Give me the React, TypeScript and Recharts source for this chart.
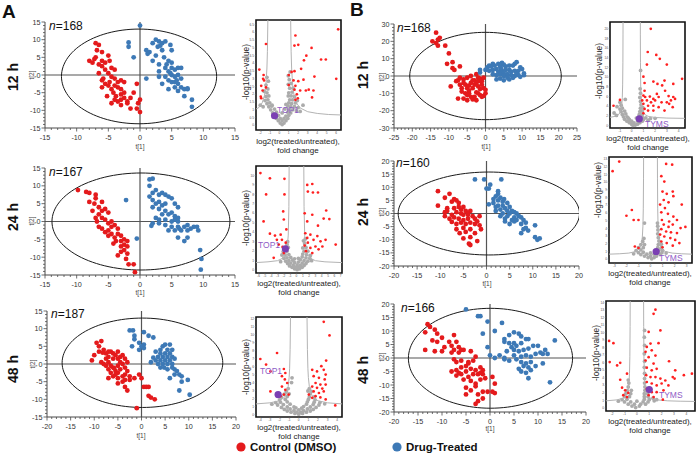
import React from 'react';
import { ScatterChart, Scatter, XAxis, YAxis, ReferenceLine, ReferenceArea } from 'recharts';

const FONT = '"Liberation Sans", Arial, Helvetica, sans-serif';
const RED = '#e41a1c';
const BLUE = '#3d79b6';
const VRED = '#ff1f1f';
const GRAY = '#ababab';
const CURVE = '#b3b3b3';
const PURPLE = '#7b3fb3';
const PURPLE_TXT = '#8f5cc6';
const AXIS = '#4a4a4a';

type Pt = [number, number];

// ---------- Score plots (t[1] vs t[2]) ----------
const a12Red: Pt[] = [[-7,9],[-6.5,8.5],[-6.8,7],[-6,6.5],[-7,5],[-8,4],[-7.5,3.5],[-6.5,3],[-5.5,3.5],[-5,5.5],[-4.8,4],[-6,2.5],[-5.5,1.5],[-4.5,2],[-4,1.5],[-5,0.5],[-4.5,-0.5],[-6,-1.5],[-5.5,-2.5],[-4,-1],[-3.5,-2],[-3,-1.5],[-2.5,-2],[-5,-3],[-4.5,-4],[-4,-3],[-3.5,-3.5],[-3,-4],[-4.2,-5],[-3.8,-6],[-3,-5.5],[-2.5,-5],[-4,-7],[-3.5,-7.5],[-3,-7],[-2.5,-6.5],[-2,-7.5],[-1.5,-6.5],[-4.5,-8],[-3,-8.5],[-2,-8],[-1.5,-9.5],[-0.5,-9.5],[-0.3,-8],[0,-7],[-1,-5],[-0.5,-2.5],[0,-10.5],[-5.8,-1],[-6.5,0.5],[-6,4],[-7.2,4.5],[-4.8,-2],[-5.2,-6],[-6,-3.5]];
const a12Blue: Pt[] = [[0,14],[-1.8,9.2],[-1.8,8],[-1,5],[1,7],[1.5,6.5],[2,9],[2.5,10],[3,9.5],[2.8,8],[3.5,9],[4,9.5],[3.5,7],[5,7],[4.8,8.5],[2,4],[3,3],[2.5,5.5],[3.8,5],[4.5,4],[5,3.5],[4,2],[3,1],[4.5,1],[5,2],[5.5,1.5],[6,2],[6.5,2],[5,0],[5.5,-0.5],[6,0],[6.5,-1],[4.5,-1.5],[4,-0.5],[3,-0.5],[5,-2],[6,-2.5],[6.5,-3.5],[7,-4],[5.5,-3.5],[6,-4.5],[4.5,-4],[7.5,-4],[7,-6],[8.2,-7],[8.2,-9],[1,-1],[3.5,-2.5],[5.5,-2],[4.2,3],[1.2,6],[7.5,-3.8],[3.2,8.3],[5.8,-1.5],[4.8,0.5]];

const a24Red: Pt[] = [[-9.8,8.8],[-8.5,8.3],[-8,8],[-8,5.5],[-7,7.5],[-7,6.5],[-7.2,5],[-6.5,4],[-6,5.5],[-6,3],[-5.5,3.5],[-5,2.5],[-6.5,2],[-7,1],[-6,1],[-5.5,0.5],[-5,-0.5],[-4.5,0],[-6.5,-1.5],[-6,-2],[-5,-2.5],[-4.5,-1.5],[-4,-1],[-3.5,-2],[-5,-4],[-4.5,-3.5],[-4,-4.5],[-3.5,-3.5],[-3,-4],[-3.8,-5.5],[-3,-5.5],[-2.5,-5],[-2,-5.5],[-3,-7],[-2.5,-6.5],[-2,-7],[-3,-8.5],[-2.5,-8],[-2,-9],[-3.5,-9.5],[-2.2,-10.5],[-1.8,-12],[-1,-12],[-0.8,-14.2],[-5.5,-3],[-4.2,-6.2],[-6.8,0],[-7.5,3]];
const a24Blue: Pt[] = [[-2.2,6],[-0.5,-4.8],[1.5,11.8],[2,12],[1.5,10],[1.5,7],[2,8],[2.5,8.8],[3,7.5],[3.5,8],[4,7.5],[4.5,7],[5,6.5],[2,6],[2.5,5],[3,5.5],[3.5,4.5],[4,5],[5.5,5],[6,4],[2,4],[3,3.5],[4,3],[4.5,2],[5,2.5],[5.5,1.5],[6,1],[3.5,2],[2.5,1],[3,0.5],[4,0.5],[5,0],[5.5,0.5],[6,0],[2,-0.5],[3,-0.5],[4,-1],[5,-1.5],[6,-1.5],[7,-1.5],[7.5,-1],[8.5,-1.5],[9,-1.5],[4.5,-2.5],[5.5,-2.5],[6.5,-2.5],[7.5,-2.5],[8,-2],[9.2,-2.5],[6,-4.5],[7,-5.5],[7.5,-4.5],[9.5,-8],[9.7,-10.5],[9.6,-13.5],[6.2,-2],[1.8,-1.2]];

const a48Red: Pt[] = [[-10.5,1],[-10,2.5],[-9.5,6],[-9,5],[-8.5,6.5],[-9,3.5],[-8,4],[-7.5,3],[-7,3.5],[-6.5,3.5],[-6,3],[-5,3.5],[-5.5,2.5],[-7.5,1.5],[-7,2],[-6,1.5],[-5,1.5],[-4.5,2],[-4,2.5],[-3.5,1.5],[-8.5,0.5],[-8,0],[-7.5,-0.5],[-7,0.5],[-6.5,-0.5],[-6,-1],[-5,-0.5],[-4.5,0.5],[-4,0],[-3,0.5],[-7,-1.5],[-6.5,-2.5],[-5.5,-2],[-5,-2.5],[-4.5,-1.5],[-3.5,-1],[-3,-2],[-7,-4],[-6,-3.5],[-5.5,-3],[-5,-4],[-4,-3.5],[-3.5,-3],[-2.5,-3.5],[-5,-5.5],[-4,-5],[-3.5,-4.5],[-2.5,-4.5],[-1.5,-4],[-3.5,-6.5],[-3,-7.5],[-0.5,-3],[0,-4],[0.5,-6.5],[1,-6.5],[1.5,-6.5],[1.5,-9],[2,-9.5],[2.8,-10],[-1,-12.5],[-5.8,-1.2],[-8.2,3.2]];
const a48Blue: Pt[] = [[-2.5,9.5],[-1.8,9.5],[-1.5,8],[-1.5,7],[0.5,9],[1.5,8],[-2,5],[-0.5,6],[0.5,5.5],[0.5,4.5],[-0.5,4],[0,5],[2.5,7.5],[4.5,5],[5,5.5],[4,4],[5.5,4],[6.5,4],[3,3.5],[4,3],[5,3],[6,3],[3.5,2],[4.5,2],[5.5,2],[6.5,2],[3,1],[4,1],[5,1],[6,1],[7,1.5],[2,0.5],[3.5,0],[4.5,0],[5.5,0],[6.5,0],[7,-1.5],[4,-1],[5.5,-1.5],[6.5,-1],[7.5,-2],[7,-3],[8,-3],[8.5,-3.5],[6,-4],[8.5,-5],[8,-7.5],[9.8,-4.5],[10.2,-8.7],[4.8,-1],[2.5,1.8],[6,5.5]];

const b12Red: Pt[] = [[-13.5,25],[-14.5,20],[-13.5,19],[-13,21],[-12.5,22],[-13,17.5],[-11,17.5],[-10,13],[-10.5,7],[-9,8],[-9,4.5],[-8.5,3.5],[-7,5.5],[-9.5,-6],[-8,-3],[-7.5,-2.5],[-7,-1],[-6,-2],[-5,-1],[-4,0],[-2.5,1],[-2,-1],[-3,-2.5],[-1.5,-1.5],[-0.5,-1],[-7,-5],[-6.5,-7],[-6,-4],[-5.5,-5],[-5,-7],[-4.5,-5.5],[-4,-4],[-3.5,-7],[-3,-5],[-2.5,-4],[-2,-6],[-1.5,-7.5],[-1,-5],[-0.5,-7],[-6.5,-9],[-5.5,-10],[-5,-11],[-4.5,-10],[-4,-12],[-3.5,-13.5],[-3,-12],[-2.5,-9.5],[-2,-10],[-1.5,-11],[-1,-12],[-0.5,-11.5],[-7.5,-13],[-6,-13],[-5,-14],[-2.5,-14],[0,-10],[0,-8],[-3.5,-2.5],[-4.5,-8.5],[-2,-3],[-1,-3]];
const b12Blue: Pt[] = [[-1.5,2],[-1.5,3.5],[0,3.5],[0.5,5],[1,6],[2,7],[2.5,6],[3.5,7],[4.5,7.5],[5,6.5],[4,5.5],[5.5,5.5],[6.5,6],[7.5,6],[8,7],[8.5,8],[9.5,5],[10,4],[3,4],[2,3.5],[1,3],[3.5,2.5],[4.5,3],[5.5,3.5],[6.5,3.5],[7,2.5],[8,3],[9,3],[10.5,1.5],[10.5,0.5],[3,0.5],[4,1],[5,1.5],[6,1],[7,0.5],[8,0],[9,0.5],[9.5,-0.5],[5,0],[6,-1],[7.5,-1],[4,-1.5],[3,-2],[5,-2.5],[6.5,-2],[2,1],[1.5,5.5],[8.5,1.5],[4.2,4.5]];

const b24Red: Pt[] = [[-10.5,8.5],[-10.5,3],[-9,6],[-8,7.5],[-8.5,2],[-7.5,4.5],[-7,5.5],[-6.5,5],[-6,4],[-6,2.5],[-7,2],[-8.5,1],[-9,-1],[-7.5,-0.5],[-6.5,0.5],[-5.5,1.5],[-5,2.5],[-4.5,1],[-5.5,0],[-5,-0.5],[-4,-0.5],[-3.5,1],[-8,-2],[-7,-1.5],[-6,-2],[-5,-2.5],[-4,-2],[-3,-1],[-2.5,-2],[-2,-3],[-1.5,-1],[-6.5,-4],[-5.5,-3.5],[-4.5,-4],[-3.5,-3.5],[-2.5,-4],[-1.5,-4.5],[-6.5,-6],[-5,-5.5],[-4.5,-7],[-3.5,-6],[-2.5,-7.5],[-1.2,-6],[-5,-9.5],[-3.5,-9],[-3.8,-11.5],[-3.5,-12],[-2,-10.5],[-7.5,-3.2],[-5.8,-7.5],[-4,0],[-9,0.5]];
const b24Blue: Pt[] = [[-2.5,13],[-0.5,13],[3.2,13],[0.8,11],[0.5,9.5],[0,9.5],[0.5,3.5],[2.5,8.5],[2.5,7.5],[2,6.5],[1.5,5.5],[3,6],[2.5,5],[1.5,4],[3.5,4.5],[4.5,4],[2.5,3],[3.5,3],[2,2.5],[4,2],[5,2.5],[3,1.5],[4.5,1],[5.5,1],[6,0.5],[3.5,0],[5,0],[6.5,0],[7,-1],[4.5,-1],[6,-1.5],[7.5,-1.5],[3,-1],[4,-2],[5.5,-2.5],[6.5,-2.5],[8,-2.5],[4,-3],[6,-3],[7.5,-4],[8.5,-3.5],[9,-6.5],[8,-6],[7.5,-7.5],[8.5,-5.5],[10.5,-4.5],[10.5,-9],[11,-10],[11.5,-9.5],[5,-4],[2,1],[3.8,5.5]];

const b48Red: Pt[] = [[-13,12.5],[-12.5,11.5],[-11.5,10.5],[-13.5,9.5],[-11,9],[-12,6.5],[-11,6],[-10,7.5],[-8.5,6],[-7.5,8.5],[-7,6],[-9.5,4],[-8,4.5],[-7.5,3],[-6.5,4],[-6,3],[-5.5,3],[-11.5,2.5],[-10,2.5],[-8,2],[-13.5,3],[-6.5,2],[-4,2.5],[-3,0.5],[-7.5,-0.5],[-7,-1.5],[-6,-1],[-4.5,-1.5],[-3.5,-1],[-5,-3],[-6,-3.5],[-7,-4.5],[-8,-5],[-7,-6.5],[-6,-6],[-5,-5],[-4,-4],[-3,-4.5],[-2,-3.5],[-1.5,-4.5],[-1.5,-6],[-2.5,-6],[-3.5,-6],[-4.5,-7],[-5.5,-8],[-4,-8.5],[-3,-9.5],[-2,-8],[-1,-7.5],[0.5,-7],[1,-9.5],[-5,-11],[-4,-12],[-3,-10.5],[-2.5,-13.5],[-1.5,-12.5],[-0.5,-12.5],[0.5,-12.5],[1,-13],[-1.5,-15],[-2.5,-16],[-3,-17],[-5,-13.5],[-6.5,-5.5],[-4.5,-2],[-2,-5.5]];
const b48Blue: Pt[] = [[-5,18],[-2,15.5],[-2.5,15.5],[-0.5,13.5],[2.5,13],[1,10],[-1.5,9],[3,7],[4,8.5],[5,9.5],[6,9],[6.5,8],[7.5,7],[8,7],[13.5,6.5],[-0.5,4],[0,1],[1,0],[2,1],[3,0],[3.5,2.5],[4.5,4],[5,5.5],[5.5,4.5],[6.5,5.5],[4,5.5],[3,6],[5,3],[6,2.5],[7,3],[8,3.5],[9,4.5],[9.5,1.5],[10.5,2],[11,1.5],[12,1.5],[11.5,3],[10,4.5],[5,1],[6.5,0.5],[7.5,1],[8.5,0.5],[5.5,-0.5],[6.5,-1.5],[7.5,-2],[8.5,-1.5],[7,-3],[8,-3.5],[6,-4],[6.5,-5],[7.5,-5.5],[8.5,-4.5],[11,-2],[8,-7.5],[12.5,-9],[4,-1],[9.5,-3],[3,-0.5]];

// ---------- Volcano plots (log2 fold change vs -log10 p) ----------
const va12Red: Pt[] = [[6.2,6.2],[1.7,5.8],[-1.4,5.25],[2.0,5.2],[1.6,5.15],[3.4,5.0],[2.85,4.5],[2.6,4.2],[4.4,4.25],[4.9,4.25],[-2.1,3.6],[1.6,3.5],[1.3,3.45],[1.0,3.25],[2.3,3.65],[3.7,3.15],[6.0,3.0],[-1.65,3.25],[-1.7,3.0],[-1.6,2.9],[-1.9,2.55],[-1.75,2.25],[-1.95,1.85],[-1.9,1.75],[-1.4,2.45],[1.5,2.9],[2.0,2.85],[2.55,2.95],[1.7,2.55],[1.6,2.3],[2.8,2.25],[3.1,2.3],[3.6,2.25],[2.2,2.25],[1.85,2.0],[1.95,1.75],[3.45,1.8],[1.7,1.65],[1.0,2.6]];
const va12Gray: Pt[] = [[0.3,0.05],[0.1,0.15],[0.5,0.15],[-0.1,0.3],[0.3,0.3],[0.7,0.3],[-0.3,0.45],[0.1,0.45],[0.5,0.45],[0.9,0.45],[-0.5,0.6],[-0.1,0.65],[0.7,0.6],[1.0,0.65],[-0.7,0.8],[-0.3,0.85],[0.3,0.8],[0.9,0.85],[1.2,0.8],[-0.9,1.0],[-0.5,1.05],[0.6,1.05],[1.0,1.0],[1.4,1.0],[1.8,0.95],[2.2,0.9],[-1.1,1.2],[-0.8,1.25],[0.9,1.25],[1.2,1.2],[1.6,1.2],[2.0,1.15],[-1.3,1.4],[-1.0,1.45],[1.0,1.45],[1.3,1.4],[1.7,1.45],[-2.0,1.3],[-1.7,1.2],[-1.5,1.6],[-1.2,1.65],[1.1,1.65],[1.4,1.65],[-1.4,1.85],[-1.1,1.9],[0.95,1.9],[1.25,1.9],[1.6,1.85],[-1.3,2.1],[-1.6,2.2],[1.0,2.1],[1.35,2.15],[-1.2,2.35],[1.1,2.4],[1.45,2.4],[-1.4,2.6],[0.95,2.65],[1.25,2.7],[-1.15,2.85],[1.05,2.95],[0.95,3.2],[1.15,3.45],[-1.3,3.1],[2.5,1.3],[1.9,1.6],[-0.75,1.3],[0.7,1.35]];
const va12CurveL: Pt[] = [[-2.45,1.06],[-2.2,1.12],[-1.8,1.45],[-1.55,1.95],[-1.4,2.65],[-1.3,3.7],[-1.25,4.75],[-1.2,6.8]];
const va12CurveR: Pt[] = [[1.2,6.8],[1.25,4.75],[1.3,3.7],[1.4,2.65],[1.55,1.95],[1.8,1.45],[2.2,1.12],[3,0.88],[4,0.77],[5.2,0.7],[6.5,0.67]];
const va12Gene: Pt[] = [[-0.5,0.62]];

const va24Red: Pt[] = [[-5.7,10.25],[-4.2,9.7],[-1.9,9.65],[-4.8,8.0],[-1.9,8.0],[1.7,9.0],[2.5,9.1],[2.6,8.2],[3.4,8.2],[1.8,8.3],[-2.1,6.2],[-5.2,5.15],[-2.0,5.35],[1.3,6.0],[2.5,5.85],[4.7,6.3],[4.3,5.45],[5.2,5.4],[1.7,5.15],[3.4,4.7],[6.2,2.7],[-4.2,3.85],[-3.4,3.65],[-2.5,3.75],[-1.6,4.3],[-3.1,3.2],[-2.3,3.2],[-1.7,2.9],[-2.8,2.7],[-2.2,2.45],[-3.6,1.3],[-2.0,1.8],[1.4,3.9],[1.7,3.4],[2.2,3.75],[2.7,3.2],[3.3,3.6],[3.8,3.05],[3.0,2.5],[2.2,2.35],[1.5,2.0],[2.5,1.8],[3.5,2.2],[4.1,2.5],[1.8,2.9],[1.3,2.6],[4.6,3.2]];
const va24Gray: Pt[] = [[0.1,0.05],[-0.3,0.15],[0.5,0.15],[-0.7,0.3],[-0.1,0.3],[0.3,0.3],[0.9,0.3],[-1.1,0.45],[-0.5,0.5],[0.1,0.55],[0.6,0.5],[1.2,0.5],[-1.4,0.7],[-0.9,0.75],[-0.3,0.8],[0.3,0.85],[0.9,0.75],[1.5,0.7],[-1.7,0.95],[-1.2,1.0],[-0.6,1.05],[0.6,1.1],[1.2,1.0],[1.8,0.95],[-2.0,1.25],[-1.5,1.3],[-0.9,1.35],[0.9,1.4],[1.5,1.3],[2.1,1.25],[-2.3,1.6],[-1.8,1.6],[-1.2,1.65],[1.0,1.7],[1.6,1.65],[2.2,1.55],[-2.1,1.95],[-1.5,2.0],[1.2,2.0],[1.8,2.0],[-1.8,2.3],[-1.3,2.4],[1.0,2.35],[1.5,2.4],[-1.5,2.7],[1.3,2.8],[1.1,3.1],[-1.4,3.0],[1.4,3.3],[2.4,1.0],[-2.5,0.9],[-0.3,1.2],[0.3,1.25]];
const va24CurveL: Pt[] = [[-6.4,0.8],[-4.5,0.88],[-3,1.0],[-2.2,1.25],[-1.7,1.7],[-1.45,2.4],[-1.3,3.7],[-1.2,6.7],[-1.16,11]];
const va24CurveR: Pt[] = [[1.16,11],[1.2,6.7],[1.3,3.7],[1.45,2.4],[1.7,1.7],[2.2,1.25],[3,1.0],[4.5,0.88],[7.2,0.8]];
const va24Gene: Pt[] = [[-1.75,2.25]];

const va48Red: Pt[] = [[2.6,11.6],[3.2,9.9],[-2.26,7.7],[-4.0,6.95],[-3.4,6.25],[-2.95,5.4],[-1.55,5.7],[-1.4,5.2],[-1.75,4.8],[-1.45,4.4],[-1.2,3.95],[-1.75,3.5],[-1.4,3.1],[-1.05,2.5],[-1.55,2.5],[-2.95,2.9],[-1.9,2.3],[2.85,6.75],[2.35,6.05],[1.4,5.6],[1.9,5.4],[2.6,5.6],[2.8,5.0],[1.55,4.8],[2.1,4.6],[2.7,4.4],[1.75,3.95],[2.25,3.75],[2.8,3.75],[1.4,3.5],[1.9,3.35],[2.45,3.25],[1.55,2.9],[2.1,2.7],[2.6,2.9],[1.75,2.3],[2.25,2.15],[2.8,1.9],[1.4,2.1],[3.8,1.15],[1.05,2.5]];
const va48Gray: Pt[] = [[0,0.05],[-0.4,0.15],[0.4,0.15],[-0.8,0.3],[-0.2,0.3],[0.2,0.3],[0.8,0.3],[-1.2,0.45],[-0.5,0.5],[0.5,0.5],[1.2,0.45],[-1.5,0.65],[-0.9,0.7],[0,0.6],[0.9,0.7],[1.5,0.65],[-1.8,0.9],[-1.2,0.95],[-0.5,0.95],[0.5,1.0],[1.2,0.95],[1.8,0.9],[-2.2,1.2],[-1.6,1.25],[-0.9,1.3],[0.8,1.3],[1.5,1.25],[2.1,1.2],[-2.4,1.5],[-1.9,1.55],[-1.2,1.6],[0.9,1.6],[1.6,1.55],[2.2,1.5],[-2.0,1.85],[-1.4,1.9],[1.0,1.9],[1.7,1.85],[-1.8,2.2],[-1.2,2.25],[1.1,2.2],[1.6,2.2],[-1.5,2.55],[-1.0,2.6],[1.2,2.6],[-1.3,2.9],[0.95,2.95],[1.3,2.9],[-1.1,3.25],[1.1,3.25],[-2.8,1.3],[2.7,1.35],[-0.7,4.6],[-0.75,4.0],[0.3,0.8],[-0.3,0.85]];
const va48CurveL: Pt[] = [[-4.45,1.34],[-3,1.47],[-2,1.73],[-1.5,2.15],[-1.25,2.7],[-1.1,3.5],[-1.0,4.65],[-0.95,5.8],[-0.9,8.15],[-0.86,12.2]];
const va48CurveR: Pt[] = [[0.86,12.2],[0.9,8.15],[0.95,5.8],[1.0,4.65],[1.1,3.5],[1.25,2.7],[1.5,2.15],[2,1.73],[3,1.47],[4.5,1.34]];
const va48Gene: Pt[] = [[-2.15,2.5]];

const vb12Red: Pt[] = [[1.63,20],[1.37,15.2],[2.1,14.6],[2.4,13.8],[1.3,12.6],[3.0,12.6],[1.0,10.1],[4.3,9.65],[1.85,9.1],[2.8,9.3],[2.2,8.6],[1.1,8.8],[2.6,8.3],[3.55,8.6],[1.1,7.2],[2.85,7.2],[1.0,6.2],[1.55,6.0],[1.85,5.5],[2.3,5.9],[3.15,6.1],[3.55,5.9],[3.7,5.5],[1.3,5.2],[1.65,4.8],[2.0,5.2],[2.55,4.8],[3.0,4.8],[3.35,5.2],[1.0,4.5],[1.4,4.1],[1.85,4.1],[2.3,3.8],[1.1,3.45],[1.4,3.1],[1.85,3.1],[2.8,3.1],[1.0,2.55],[3.2,4.5],[-1.0,5.3],[-1.55,4.1],[3.5,3.8],[1.15,5.9],[2.15,6.55],[0.9,5.2]];
const vb12Gray: Pt[] = [[0.3,0.1],[0.0,0.3],[0.5,0.3],[-0.2,0.6],[0.2,0.55],[0.7,0.6],[-0.4,0.9],[0.0,0.9],[0.5,0.95],[0.9,0.9],[-0.6,1.3],[-0.2,1.3],[0.6,1.3],[1.0,1.25],[1.4,1.1],[-0.7,1.8],[-0.4,1.8],[0.6,1.8],[0.9,1.75],[1.2,1.6],[-0.8,2.3],[-0.5,2.4],[0.65,2.3],[0.9,2.3],[-0.9,2.9],[-0.6,3.0],[0.7,2.9],[0.9,3.0],[-0.8,3.6],[-1.0,3.4],[0.75,3.6],[0.95,3.7],[-0.9,4.2],[0.8,4.3],[-1.25,3.9],[-1.0,4.8],[0.75,5.0],[0.7,5.8],[-0.55,5.4],[0.75,6.7],[0.72,7.6],[0.76,11.4],[-1.5,2.6],[-1.3,2.1],[1.6,1.45],[2.0,1.5],[0.1,0.05],[-0.3,1.6],[0.4,1.55]];
const vb12CurveL: Pt[] = [[-1.85,1.71],[-1.4,1.91],[-1.1,2.32],[-0.95,2.9],[-0.85,4.1],[-0.8,5.8],[-0.77,8.4],[-0.75,13.1],[-0.74,18.9],[-0.737,21.4]];
const vb12CurveR: Pt[] = [[0.737,21.4],[0.74,18.9],[0.75,13.1],[0.77,8.4],[0.8,5.8],[0.85,4.1],[0.95,2.9],[1.1,2.32],[1.4,1.91],[2,1.67],[3,1.55],[4.55,1.49]];
const vb12Gene: Pt[] = [[0.65,1.4]];

const vb24Red: Pt[] = [[-2.6,12.7],[-3.15,11.45],[1.3,12.4],[1.8,12.3],[0.9,10.8],[1.15,10.1],[1.85,8.8],[1.0,8.8],[1.35,8.5],[1.9,8.2],[1.1,7.7],[1.5,7.4],[0.8,7.1],[2.6,7.1],[1.2,6.65],[0.9,6.1],[-1.55,6.4],[-2.0,5.65],[-1.0,5.1],[-1.4,5.1],[1.45,5.9],[1.9,5.55],[0.95,5.1],[1.55,4.9],[2.2,5.1],[1.1,4.5],[1.5,4.2],[1.85,4.5],[2.5,4.05],[2.9,4.2],[0.9,3.9],[1.3,3.6],[1.7,3.5],[2.2,3.4],[0.8,3.2],[1.15,2.95],[1.65,2.75],[2.05,2.5],[0.9,2.3],[1.35,2.1],[1.85,1.75],[1.0,1.55],[2.4,2.1],[-1.3,1.65],[-1.0,1.45]];
const vb24Gray: Pt[] = [[0.1,0.05],[-0.2,0.2],[0.3,0.2],[-0.5,0.4],[0.0,0.4],[0.5,0.4],[-0.8,0.6],[-0.3,0.65],[0.3,0.65],[0.8,0.6],[-1.0,0.85],[-0.6,0.9],[0.6,0.9],[0.95,0.85],[-1.2,1.1],[-0.8,1.2],[0.7,1.2],[1.0,1.15],[-1.0,1.5],[-0.6,1.5],[0.6,1.5],[0.9,1.5],[-0.8,1.9],[-0.5,1.9],[0.65,1.9],[0.9,1.95],[-0.65,2.3],[0.7,2.35],[-0.55,2.7],[0.65,2.8],[0.6,3.3],[0.62,3.8],[0.6,4.3],[0.58,4.7],[-0.5,4.7],[-1.4,0.7],[1.3,0.8],[0.0,0.8]];
const vb24CurveL: Pt[] = [[-3.45,0.65],[-2.6,0.7],[-1.8,0.79],[-1.2,1.01],[-0.9,1.41],[-0.75,2.05],[-0.68,2.86],[-0.63,4.3],[-0.6,6.55],[-0.58,10.55],[-0.574,13.3]];
const vb24CurveR: Pt[] = [[0.574,13.3],[0.58,10.55],[0.6,6.55],[0.63,4.3],[0.68,2.86],[0.75,2.05],[0.9,1.41],[1.2,1.01],[1.8,0.79],[2.6,0.7],[3.45,0.65]];
const vb24Gene: Pt[] = [[0.47,1.0]];

const vb48Red: Pt[] = [[1.5,13.05],[1.35,12.5],[0.95,10.1],[1.9,10.3],[-2.25,8.9],[-1.9,8.6],[1.1,8.55],[1.75,8.6],[0.8,8.1],[1.2,7.65],[0.7,7.45],[1.5,6.95],[0.95,6.75],[-2.2,6.1],[-1.35,6.0],[-1.6,5.65],[2.6,6.2],[3.1,5.0],[4.45,4.55],[3.8,4.35],[2.9,4.1],[3.05,3.9],[-0.8,4.55],[-1.35,3.75],[0.7,6.3],[1.35,5.9],[0.8,5.35],[1.2,5.0],[1.6,5.2],[0.75,4.35],[1.1,4.1],[1.5,4.1],[1.9,3.9],[2.3,3.65],[0.8,3.45],[1.2,3.25],[1.6,3.0],[2.0,3.25],[2.55,3.0],[0.8,2.55],[1.2,2.1],[1.6,2.1],[2.15,2.35],[0.95,1.7],[1.35,1.45],[2.1,1.1],[-1.2,2.7],[-0.95,2.35],[-0.7,2.0],[-1.1,1.7],[-0.8,1.45]];
const vb48Gray: Pt[] = [[-0.1,0.05],[-0.4,0.25],[0.2,0.25],[-0.7,0.5],[-0.2,0.5],[0.3,0.5],[0.7,0.5],[-1.0,0.8],[-0.5,0.8],[0.5,0.8],[0.9,0.8],[-1.2,1.1],[-0.8,1.15],[0.6,1.15],[1.0,1.1],[-1.0,1.5],[-0.6,1.5],[0.6,1.5],[0.9,1.5],[-0.9,1.9],[-0.5,1.9],[0.6,1.9],[0.85,1.95],[-0.8,2.3],[-0.45,2.35],[0.65,2.35],[0.85,2.4],[-0.7,2.8],[0.65,2.8],[-0.65,3.3],[0.62,3.3],[-0.7,3.7],[0.62,3.9],[0.62,4.6],[0.6,5.4],[0.62,6.2],[0.6,7.2],[0.62,8.3],[0.6,9.4],[0.62,10.3],[-1.5,0.9],[1.4,0.95],[0.0,0.9],[1.3,1.3],[1.6,1.1]];
const vb48CurveL: Pt[] = [[-2.5,0.95],[-1.6,1.08],[-1.1,1.32],[-0.85,1.71],[-0.72,2.3],[-0.65,3.1],[-0.6,4.55],[-0.57,6.8],[-0.55,10.8],[-0.542,14.2]];
const vb48CurveR: Pt[] = [[0.542,14.2],[0.55,10.8],[0.57,6.8],[0.6,4.55],[0.65,3.1],[0.72,2.3],[0.85,1.71],[1.1,1.32],[1.6,1.08],[2.5,0.95],[3.5,0.9],[4.7,0.87]];
const vb48Gene: Pt[] = [[1.0,2.45]];

// ---------- helpers ----------
type Box = { x0: number; y0: number; x1: number; y1: number };
const toXY = (a: Pt[]) => a.map(([x, y]) => ({ x, y }));
const range = (a: number, b: number, s: number) => {
  const r: number[] = [];
  for (let i = 0; a + i * s <= b + 1e-9; i++) r.push(+(a + i * s).toFixed(3));
  return r;
};
const isMajor = (v: number, step: number) => Math.abs(v / step - Math.round(v / step)) < 1e-6;
const ellipsePts = (cx: number, cy: number, rx: number, ry: number) =>
  Array.from({ length: 121 }, (_, i) => {
    const t = (i / 120) * Math.PI * 2;
    return { x: cx + rx * Math.cos(t), y: cy + ry * Math.sin(t) };
  });
const none = () => <g />;

function PcaPlot(props: {
  box: Box; xDom: [number, number]; yDom: [number, number];
  xMaj: number; xMin: number; yMaj: number; yMin: number;
  ell: [number, number, number, number]; red: Pt[]; blue: Pt[];
}) {
  const { box, xDom, yDom, xMaj, xMin, yMaj, yMin, ell, red, blue } = props;
  const yw = 30, xh = 22, pad = 5;
  const w = box.x1 - box.x0 + yw + pad;
  const h = box.y1 - box.y0 + pad + xh;
  const xt = (p: any) => {
    const v = p.payload.value;
    const maj = isMajor(v, xMaj);
    return (
      <g>
        <line x1={p.x} x2={p.x} y1={p.y} y2={p.y + (maj ? 3.5 : 2)} stroke={AXIS} strokeWidth={0.8} />
        {maj && <text x={p.x} y={p.y + 11.5} textAnchor="middle" fontSize={7.2} fill="#333" fontFamily={FONT}>{v}</text>}
      </g>
    );
  };
  const yt = (p: any) => {
    const v = p.payload.value;
    const maj = isMajor(v, yMaj);
    return (
      <g>
        <line x1={p.x} x2={p.x - (maj ? 3.5 : 2)} y1={p.y} y2={p.y} stroke={AXIS} strokeWidth={0.8} />
        {maj && <text x={p.x - 4.5} y={p.y + 2.6} textAnchor="end" fontSize={7.2} fill="#333" fontFamily={FONT}>{v}</text>}
      </g>
    );
  };
  return (
    <div style={{ position: 'absolute', left: box.x0 - yw, top: box.y0 - pad }}>
      <ScatterChart width={w} height={h} margin={{ top: pad, right: pad, bottom: 0, left: 0 }}>
        <XAxis type="number" dataKey="x" domain={xDom} ticks={range(xDom[0], xDom[1], xMin)} interval={0}
          tickSize={0} tickMargin={0} height={xh} tick={xt} tickLine={false} axisLine={{ stroke: AXIS, strokeWidth: 1 }} allowDataOverflow />
        <YAxis type="number" dataKey="y" domain={yDom} ticks={range(yDom[0], yDom[1], yMin)} interval={0}
          tickSize={0} tickMargin={0} width={yw} tick={yt} tickLine={false} axisLine={{ stroke: AXIS, strokeWidth: 1 }} allowDataOverflow />
        <ReferenceLine x={0} stroke="#555" strokeWidth={1.2} />
        <ReferenceLine y={0} stroke="#555" strokeWidth={1.2} />
        <Scatter data={ellipsePts(ell[0], ell[1], ell[2], ell[3])} line={{ stroke: '#1a1a1a', strokeWidth: 1 }}
          shape={none} isAnimationActive={false} legendType="none" />
        <Scatter data={toXY(red)} isAnimationActive={false}
          shape={(p: any) => <circle cx={p.cx} cy={p.cy} r={2.4} fill={RED} />} />
        <Scatter data={toXY(blue)} isAnimationActive={false}
          shape={(p: any) => <circle cx={p.cx} cy={p.cy} r={2.4} fill={BLUE} />} />
      </ScatterChart>
    </div>
  );
}

function Volcano(props: {
  box: Box; xDom: [number, number]; yDom: [number, number];
  xTicks: number[]; yTicks: number[];
  gray: Pt[]; red: Pt[]; curveL: Pt[]; curveR: Pt[]; gene: Pt[];
}) {
  const { box, xDom, yDom, xTicks, yTicks, gray, red, curveL, curveR, gene } = props;
  const yw = 9, xh = 7, pad = 4;
  const w = box.x1 - box.x0 + yw + pad;
  const h = box.y1 - box.y0 + pad + xh;
  const xt = (p: any) => (
    <g>
      <line x1={p.x} x2={p.x} y1={p.y} y2={p.y + 1.2} stroke="#666" strokeWidth={0.5} />
      <text x={p.x} y={p.y + 3.9} textAnchor="middle" fontSize={3.2} fill="#555" fontFamily={FONT}>{p.payload.value}</text>
    </g>
  );
  const yt = (p: any) => (
    <g>
      <line x1={p.x} x2={p.x - 1.3} y1={p.y} y2={p.y} stroke="#666" strokeWidth={0.5} />
      <text x={p.x - 2} y={p.y + 1.1} textAnchor="end" fontSize={3.2} fill="#555" fontFamily={FONT}>{p.payload.value}</text>
    </g>
  );
  return (
    <div style={{ position: 'absolute', left: box.x0 - yw, top: box.y0 - pad }}>
      <ScatterChart width={w} height={h} margin={{ top: pad, right: pad, bottom: 0, left: 0 }}>
        <XAxis type="number" dataKey="x" domain={xDom} ticks={xTicks} interval={0} tickSize={0} tickMargin={0}
          height={xh} tick={xt} tickLine={false} axisLine={false} allowDataOverflow />
        <YAxis type="number" dataKey="y" domain={yDom} ticks={yTicks} interval={0} tickSize={0} tickMargin={0}
          width={yw} tick={yt} tickLine={false} axisLine={false} allowDataOverflow />
        <Scatter data={toXY(gray)} isAnimationActive={false}
          shape={(p: any) => <circle cx={p.cx} cy={p.cy} r={1.9} fill={GRAY} />} />
        <Scatter data={toXY(curveL)} line={{ stroke: CURVE, strokeWidth: 1 }} shape={none} isAnimationActive={false} />
        <Scatter data={toXY(curveR)} line={{ stroke: CURVE, strokeWidth: 1 }} shape={none} isAnimationActive={false} />
        <Scatter data={toXY(red)} isAnimationActive={false}
          shape={(p: any) => <circle cx={p.cx} cy={p.cy} r={1.35} fill={VRED} />} />
        <Scatter data={toXY(gene)} isAnimationActive={false}
          shape={(p: any) => <circle cx={p.cx} cy={p.cy} r={3.6} fill={PURPLE} />} />
        <ReferenceArea x1={xDom[0]} x2={xDom[1]} y1={yDom[0]} y2={yDom[1]} fill="none" fillOpacity={0}
          stroke="#111" strokeWidth={1.6} ifOverflow="visible" />
      </ScatterChart>
    </div>
  );
}

const T = (p: any) => <text fontFamily={FONT} {...p} />;

function VLabels({ cx, y1, lx, ly }: { cx: number; y1: number; lx: number; ly: number }) {
  return (
    <g>
      <T x={cx} y={y1} fontSize={8} textAnchor="middle" fill="#222">log2(treated/untreated),</T>
      <T x={cx} y={y1 + 9} fontSize={8} textAnchor="middle" fill="#222">fold change</T>
      <T x={lx} y={ly} fontSize={8.3} textAnchor="middle" fill="#222" transform={`rotate(-90 ${lx} ${ly})`}>-log10(p-value)</T>
    </g>
  );
}

function PLabels({ nx, ny, n, row, rx, ry, t2x, t2y, t1x, t1y }: any) {
  return (
    <g>
      <T x={nx} y={ny} fontSize={12} fill="#111"><tspan fontStyle="italic">n</tspan>={n}</T>
      <T x={rx} y={ry} fontSize={14} fontWeight="bold" textAnchor="middle" fill="#111" transform={`rotate(-90 ${rx} ${ry})`}>{row}</T>
      <T x={t2x} y={t2y} fontSize={6.5} textAnchor="middle" fill="#444" transform={`rotate(-90 ${t2x} ${t2y})`}>t[2]</T>
      <T x={t1x} y={t1y} fontSize={6.5} textAnchor="middle" fill="#444">t[1]</T>
    </g>
  );
}

export default function App() {
  return (
    <div style={{ position: 'absolute', left: 0, top: 0, width: 697, height: 460, background: '#fff', overflow: 'hidden' }}>
      <PcaPlot box={{ x0: 45, y0: 22, x1: 235, y1: 128 }} xDom={[-15, 15]} yDom={[-15, 15]} xMaj={5} xMin={1} yMaj={5} yMin={1}
        ell={[-0.15, -0.4, 12.25, 13.4]} red={a12Red} blue={a12Blue} />
      <PcaPlot box={{ x0: 45, y0: 168, x1: 235, y1: 275 }} xDom={[-15, 15]} yDom={[-15, 15]} xMaj={5} xMin={1} yMaj={5} yMin={1}
        ell={[0.15, 0, 14.05, 13.6]} red={a24Red} blue={a24Blue} />
      <PcaPlot box={{ x0: 47, y0: 311, x1: 236, y1: 417 }} xDom={[-20, 20]} yDom={[-15, 15]} xMaj={5} xMin={1} yMaj={5} yMin={1}
        ell={[0.2, 0.35, 17, 12.65]} red={a48Red} blue={a48Blue} />
      <PcaPlot box={{ x0: 394, y0: 24, x1: 577, y1: 128 }} xDom={[-25, 25]} yDom={[-30, 30]} xMaj={5} xMin={1} yMaj={10} yMin={2}
        ell={[0, 0, 20.7, 25.2]} red={b12Red} blue={b12Blue} />
      <PcaPlot box={{ x0: 394, y0: 161, x1: 579, y1: 266 }} xDom={[-20, 20]} yDom={[-20, 20]} xMaj={5} xMin={1} yMaj={5} yMin={1}
        ell={[0.5, 0, 19.6, 15.8]} red={b24Red} blue={b24Blue} />
      <PcaPlot box={{ x0: 394, y0: 304, x1: 586, y1: 412 }} xDom={[-20, 20]} yDom={[-20, 20]} xMaj={5} xMin={1} yMaj={5} yMin={1}
        ell={[0.1, -0.1, 17.1, 18.5]} red={b48Red} blue={b48Blue} />

      <Volcano box={{ x0: 256, y0: 20, x1: 341, y1: 130 }} xDom={[-2.45, 6.5]} yDom={[-0.3, 6.8]}
        xTicks={range(-2, 6, 1)} yTicks={range(0, 6.5, 0.5)} gray={va12Gray} red={va12Red} curveL={va12CurveL} curveR={va12CurveR} gene={va12Gene} />
      <Volcano box={{ x0: 256, y0: 166, x1: 342, y1: 273 }} xDom={[-6.4, 7.2]} yDom={[-0.3, 11]}
        xTicks={range(-6, 7, 1)} yTicks={range(0, 10, 1)} gray={va24Gray} red={va24Red} curveL={va24CurveL} curveR={va24CurveR} gene={va24Gene} />
      <Volcano box={{ x0: 256, y0: 317, x1: 342, y1: 417 }} xDom={[-4.45, 4.5]} yDom={[-0.3, 12.2]}
        xTicks={range(-4, 4, 1)} yTicks={range(0, 12, 1)} gray={va48Gray} red={va48Red} curveL={va48CurveL} curveR={va48CurveR} gene={va48Gene} />
      <Volcano box={{ x0: 610, y0: 22, x1: 685, y1: 128 }} xDom={[-1.85, 4.55]} yDom={[-0.5, 21.4]}
        xTicks={range(-1, 4, 1)} yTicks={range(0, 20, 2)} gray={vb12Gray} red={vb12Red} curveL={vb12CurveL} curveR={vb12CurveR} gene={vb12Gene} />
      <Volcano box={{ x0: 609, y0: 157, x1: 692, y1: 263 }} xDom={[-3.45, 3.45]} yDom={[-0.5, 13.3]}
        xTicks={range(-3, 3, 1)} yTicks={range(0, 13, 1)} gray={vb24Gray} red={vb24Red} curveL={vb24CurveL} curveR={vb24CurveR} gene={vb24Gene} />
      <Volcano box={{ x0: 606, y0: 301, x1: 695, y1: 411 }} xDom={[-2.5, 4.7]} yDom={[-0.4, 14.2]}
        xTicks={range(-2, 4, 1)} yTicks={range(0, 14, 1)} gray={vb48Gray} red={vb48Red} curveL={vb48CurveL} curveR={vb48CurveR} gene={vb48Gene} />

      <svg width={697} height={460} style={{ position: 'absolute', left: 0, top: 0, pointerEvents: 'none' }}>
        <T x={2} y={18} fontSize={19} fontWeight="bold" fill="#111">A</T>
        <T x={350} y={16} fontSize={19} fontWeight="bold" fill="#111">B</T>

        <PLabels nx={49} ny={30} n={168} row="12 h" rx={18} ry={77} t2x={34} t2y={75} t1x={140} t1y={149} />
        <PLabels nx={49} ny={176} n={167} row="24 h" rx={18} ry={217} t2x={34} t2y={221} t1x={140} t1y={295} />
        <PLabels nx={51} ny={318} n={187} row="48 h" rx={18} ry={369} t2x={35} t2y={364} t1x={141} t1y={438} />
        <PLabels nx={397} ny={32} n={168} row="12 h" rx={368} ry={75} t2x={384} t2y={77} t1x={486} t1y={149} />
        <PLabels nx={396} ny={167} n={160} row="24 h" rx={368} ry={212} t2x={384} t2y={212} t1x={487} t1y={286} />
        <PLabels nx={401} ny={312} n={166} row="48 h" rx={368} ry={370} t2x={384} t2y={357} t1x={490} t1y={431} />

        <VLabels cx={298} y1={144} lx={249} ly={72} />
        <VLabels cx={299} y1={286} lx={249} ly={218} />
        <VLabels cx={299} y1={430} lx={249} ly={367} />
        <VLabels cx={648} y1={141} lx={602} ly={71} />
        <VLabels cx={650} y1={276} lx={601} ly={190} />
        <VLabels cx={650} y1={424} lx={599} ly={353} />

        <T x={277} y={113} fontSize={8.5} fill={PURPLE_TXT}>TOP1</T>
        <T x={258} y={248} fontSize={8.5} fill={PURPLE_TXT}>TOP1</T>
        <T x={260} y={374} fontSize={8.5} fill={PURPLE_TXT}>TOP1</T>
        <T x={645} y={127} fontSize={8.5} fill={PURPLE_TXT}>TYMS</T>
        <T x={659} y={261} fontSize={8.5} fill={PURPLE_TXT}>TYMS</T>
        <T x={659} y={398} fontSize={8.5} fill={PURPLE_TXT}>TYMS</T>

        <circle cx={241} cy={447} r={4.6} fill={RED} />
        <T x={250} y={451} fontSize={11.5} fontWeight="bold" fill="#111">Control (DMSO)</T>
        <circle cx={397} cy={447} r={4.6} fill={BLUE} />
        <T x={406} y={451} fontSize={11.5} fontWeight="bold" fill="#111">Drug-Treated</T>
      </svg>
    </div>
  );
}
